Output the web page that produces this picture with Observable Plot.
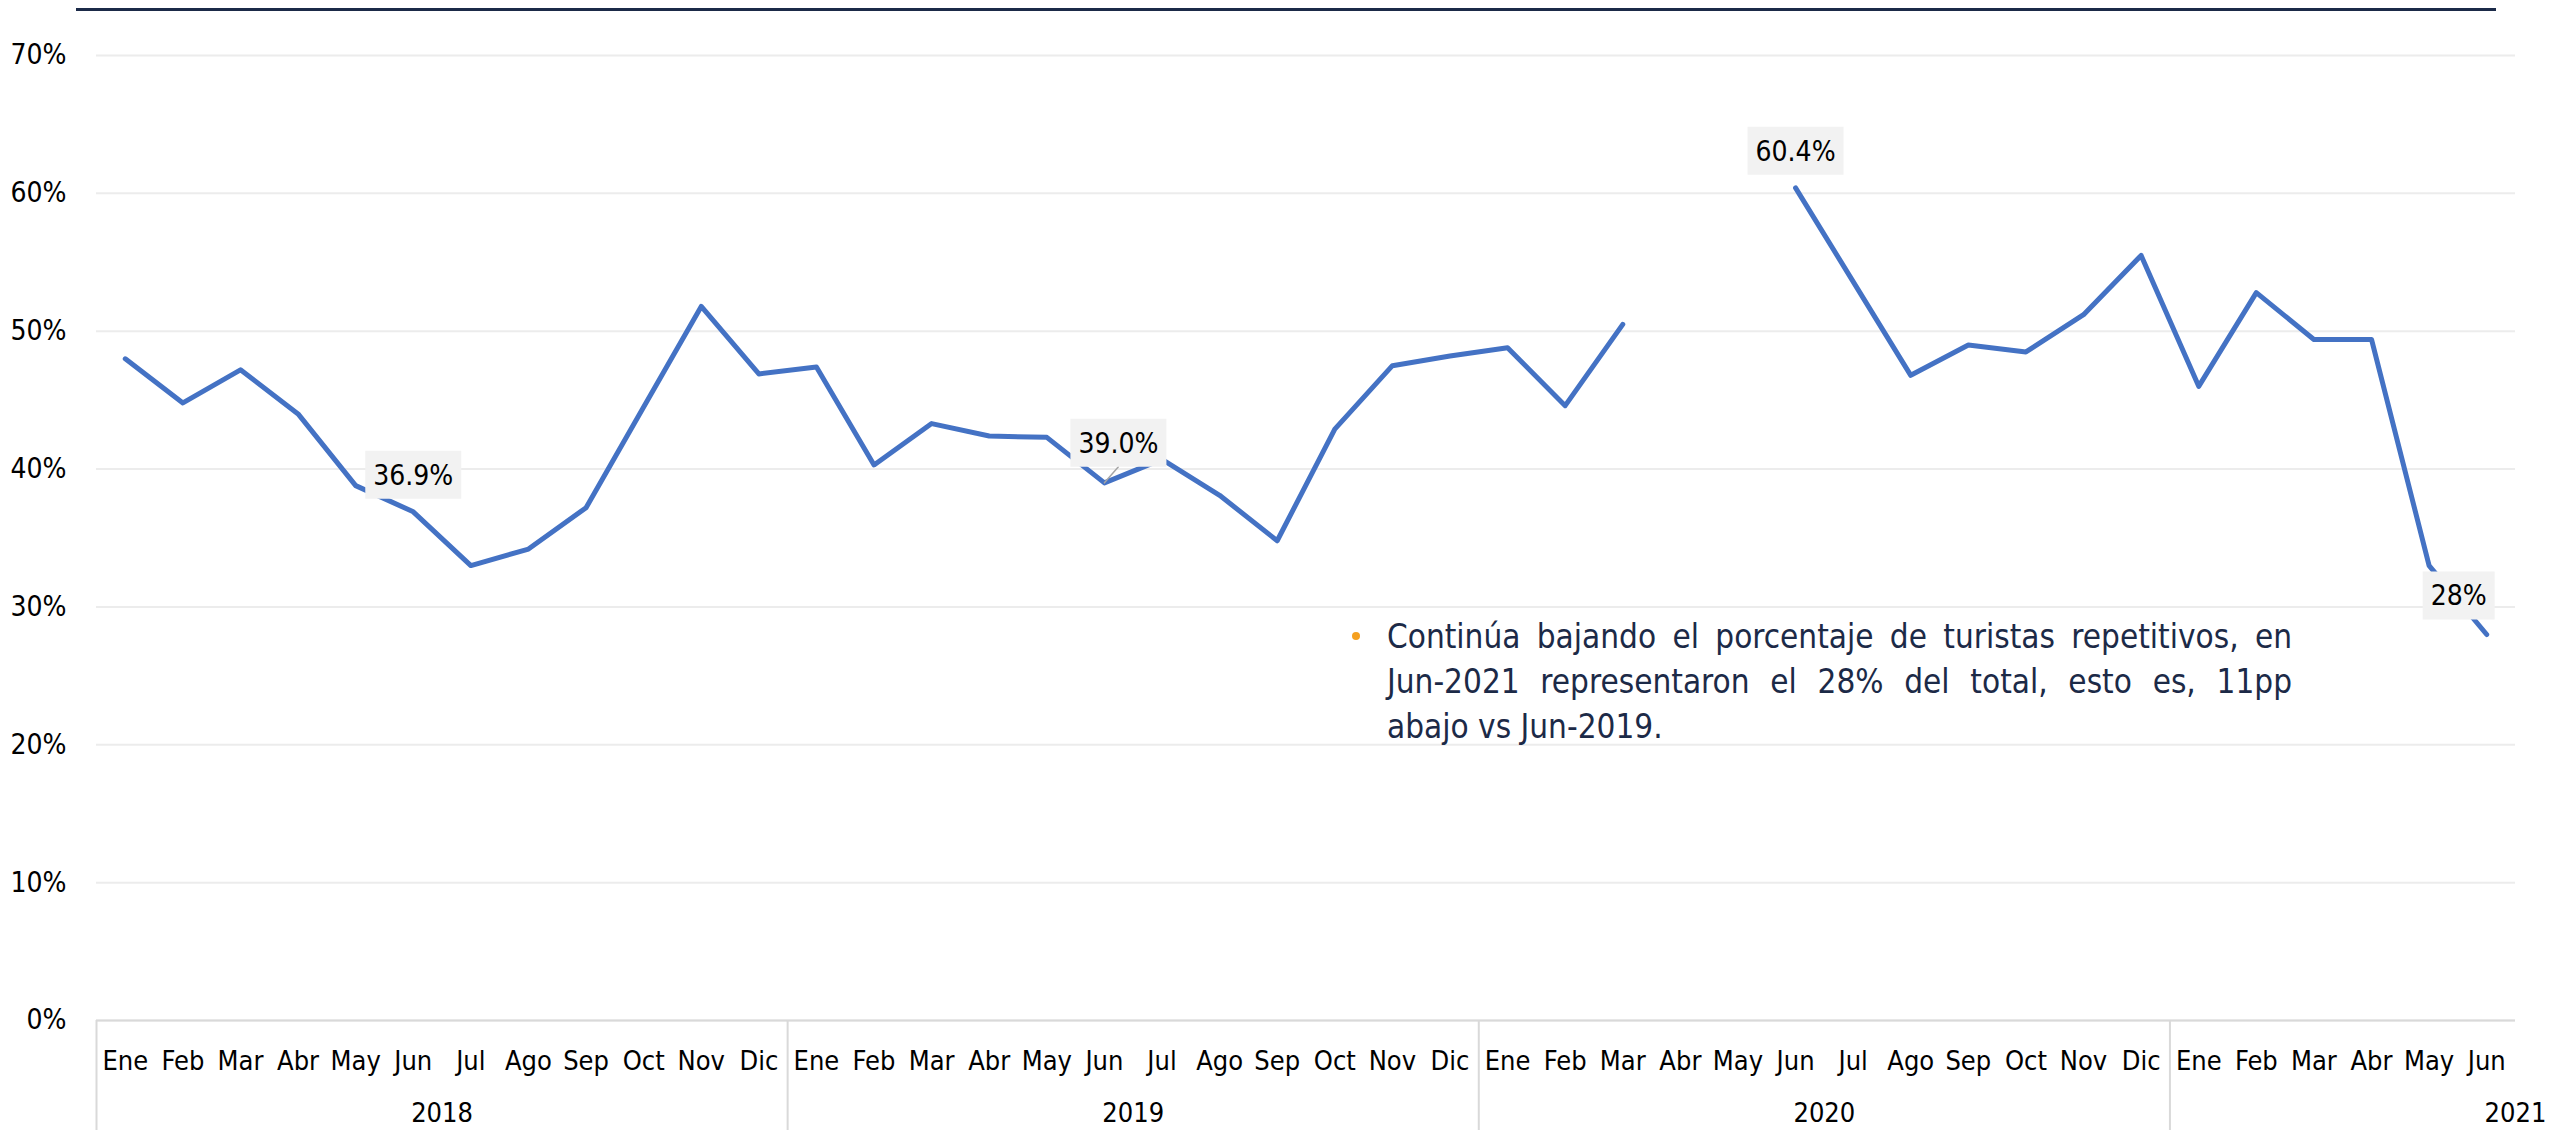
<!DOCTYPE html>
<html>
<head>
<meta charset="utf-8">
<script src="https://cdn.jsdelivr.net/npm/d3@7"></script>
<script src="https://cdn.jsdelivr.net/npm/@observablehq/plot@0.6"></script>
<style>
  html, body { margin: 0; padding: 0; background: #ffffff; }
  #wrap { position: relative; width: 2552px; height: 1130px; overflow: hidden; font-family: "Liberation Sans Narrow", "DejaVu Sans Condensed", "Open Sans", sans-serif; }
  #topline { position: absolute; left: 76px; top: 8px; width: 2420px; height: 3px; background: #1b2a48; }
  #note { position: absolute; left: 1387px; top: 614px; width: 905px; font-size: 33px; line-height: 45px; color: #1c2a47; }
  #note .j2 { text-align: justify; text-align-last: justify; display: block; }
  #bullet { position: absolute; left: -35px; top: 18px; width: 8px; height: 8px; border-radius: 50%; background: #f5a01f; }
</style>
</head>
<body>
<div id="wrap">
  <div id="topline"></div>
  <div id="chart"></div>
  <div id="note">
    <span id="bullet"></span>
    <span class="j2">Continúa bajando el porcentaje de turistas repetitivos, en</span>
    <span class="j2">Jun-2021 representaron el 28% del total, esto es, 11pp</span>
    <span style="display:block">abajo vs Jun-2019.</span>
  </div>
</div>
<script>
// ---- data ----
const months = ["Ene","Feb","Mar","Abr","May","Jun","Jul","Ago","Sep","Oct","Nov","Dic"];
const years = [2018, 2019, 2020, 2021];
const values2018 = [48.0, 44.8, 47.2, 44.0, 38.8, 36.9, 33.0, 34.2, 37.2, 44.5, 51.8, 46.9];
const values2019 = [47.4, 40.3, 43.3, 42.4, 42.3, 39.0, 40.7, 38.1, 34.8, 42.9, 47.5, 48.2];
const values2020 = [48.8, 44.6, 50.5, null, null, 60.4, 53.6, 46.8, 49.0, 48.5, 51.2, 55.5];
const values2021 = [46.0, 52.8, 49.4, 49.4, 33.0, 28.0];
const yTicks = [0, 10, 20, 30, 40, 50, 60, 70];
const labelIndex = [5, 17, 29, 41];
const labelText = ["36.9%", "39.0%", "60.4%", "28%"];

// ---- build table ----
const series = [values2018, values2019, values2020, values2021];
const rows = [];
series.forEach((vals, yi) => vals.forEach((v, mi) => rows.push({
  i: rows.length, x: rows.length + 0.5, month: months[mi], year: years[yi], value: v
})));
const n = rows.length; // 42
const yearCenters = years.map((y, k) => k * 12 + 6);
const yearBounds = years.map((y, k) => k * 12);

// label layout (pixel offsets of boxes)
const labelLayout = [
  {dx: 0, dy: -37},
  {dx: 14, dy: -40, leader: true},
  {dx: 0, dy: -37},
  {dx: -28, dy: -39}
];

const font = '"Liberation Sans Narrow", "DejaVu Sans Condensed", "Open Sans", sans-serif';

const labelMarks = [];
labelIndex.forEach((idx, k) => {
  const d = [{x: rows[idx].x, y: rows[idx].value, t: labelText[k]}];
  const L = labelLayout[k];
  const w = labelText[k].length > 3 ? 96 : 72, h = 48;
  const box = { draw(ctx) { ctx.rect(-w / 2, -h / 2, w, h); } };
  if (L.leader) {
    const len = Math.hypot(L.dx, L.dy + h / 2);
    const rot = Math.atan2(L.dx, -(L.dy + h / 2)) * 180 / Math.PI;
    labelMarks.push(Plot.vector(d, {x: "x", y: "y", length: len, rotate: rot, anchor: "start",
      stroke: "#a6a6a6", strokeWidth: 1.5, r: 0}));
  }
  labelMarks.push(Plot.dot(d, {x: "x", y: "y", symbol: box, r: 10, fill: "#f2f2f2", stroke: "none", dx: L.dx, dy: L.dy}));
  labelMarks.push(Plot.text(d, {x: "x", y: "y", text: "t", dx: L.dx, dy: L.dy + 1, fontSize: 28, fill: "#000000", textAnchor: "middle"}));
});

const chart = Plot.plot({
  width: 2552,
  height: 1130,
  marginLeft: 96,
  marginRight: 37,
  marginTop: 55,
  marginBottom: 110,
  style: { fontFamily: font, fontSize: "27px", color: "#000000", background: "transparent", overflow: "visible" },
  x: { domain: [0, n] },
  y: { domain: [0, 70] },
  marks: [
    Plot.gridY(yTicks, { stroke: "#ececec", strokeOpacity: 1, strokeWidth: 2 }),
    Plot.ruleY([0], { stroke: "#d9d9d9", strokeWidth: 2 }),
    Plot.axisY(yTicks, { tickSize: 0, tickPadding: 30, tickFormat: d => d + "%", fontSize: 28, label: null, fill: "#000" }),
    Plot.axisX(rows.map(r => r.x), { tickSize: 0, tickPadding: 30, tickFormat: d => months[Math.floor(d) % 12], label: null, fontSize: 27, fill: "#000" }),
    Plot.axisX(yearCenters, { tickSize: 0, tickPadding: 82, tickFormat: (d, k) => String(years[k]), label: null, fontSize: 27, fill: "#000" }),
    Plot.axisX(yearBounds, { tickSize: 110, tickFormat: () => "", label: null, stroke: "#d9d9d9", strokeWidth: 2 }),
    Plot.line(rows, { x: "x", y: "value", stroke: "#4472c4", strokeWidth: 5, strokeLinejoin: "round", strokeLinecap: "round" }),
    ...labelMarks
  ]
});
document.getElementById("chart").appendChild(chart);
</script>
</body>
</html>
